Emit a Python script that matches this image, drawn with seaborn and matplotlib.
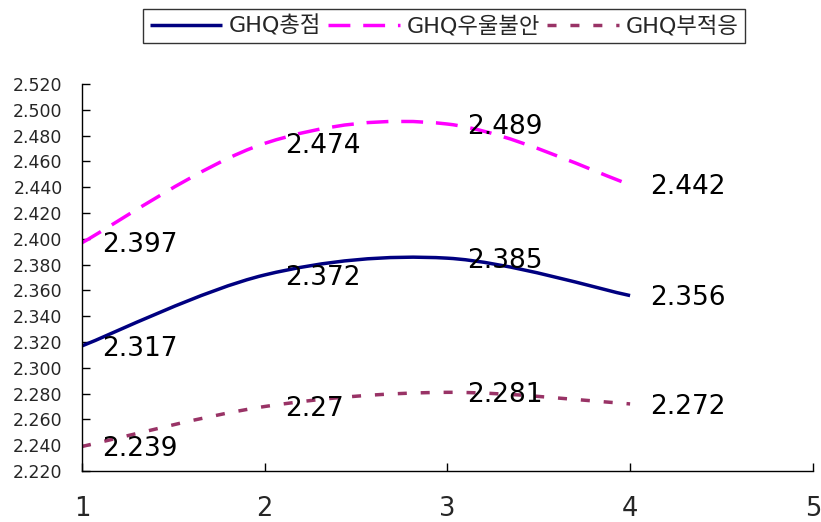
import numpy as np
import matplotlib
matplotlib.use("Agg")
import matplotlib.pyplot as plt
import seaborn as sns
import pandas as pd
from matplotlib.path import Path
from matplotlib.patches import PathPatch

# ---- data ----
waves = [1, 2, 3, 4]
ghq_total = [2.317, 2.372, 2.385, 2.356]
ghq_anxiety = [2.397, 2.474, 2.489, 2.442]
ghq_adjust = [2.239, 2.27, 2.281, 2.272]
series_names = ["GHQ총점", "GHQ우울불안", "GHQ부적응"]
x_ticks = [1, 2, 3, 4, 5]
y_ticks = [2.22, 2.24, 2.26, 2.28, 2.30, 2.32, 2.34, 2.36, 2.38, 2.40,
           2.42, 2.44, 2.46, 2.48, 2.50, 2.52]

colors = ["#000080", "#FF00FF", "#993366"]
styles = ["-", (0, (6.3, 3.7)), (0, (2.6, 4.0))]
LW = 2.5

sns.set_theme(style="white")
plt.rcParams['font.family'] = ['DejaVu Sans', 'Noto Sans CJK KR']

fig = plt.figure(figsize=(8.21, 5.22), dpi=100)
ax = fig.add_axes([0.0999, 0.0977, 0.8901, 0.7413])

df = pd.DataFrame({"wave": waves * 3,
                   "value": ghq_total + ghq_anxiety + ghq_adjust,
                   "series": [series_names[0]] * 4 + [series_names[1]] * 4 + [series_names[2]] * 4})

seaborn_lines = []
for name, col, ls in zip(series_names, colors, styles):
    sub = df[df["series"] == name]
    sns.lineplot(data=sub, x="wave", y="value", color=col, linestyle=ls,
                 linewidth=LW, label=name, ax=ax, solid_capstyle="butt",
                 dash_capstyle="butt")
    seaborn_lines.append(ax.lines[-1])


def smooth_path(xs, ys):
    pts = np.column_stack([xs, ys]).astype(float)
    n = len(pts)
    verts = [pts[0]]
    codes = [Path.MOVETO]
    for i in range(n - 1):
        p0 = pts[max(i - 1, 0)]
        p1 = pts[i]
        p2 = pts[i + 1]
        p3 = pts[min(i + 2, n - 1)]
        c1 = p1 + (p2 - p0) / 6.0
        c2 = p2 - (p3 - p1) / 6.0
        verts += [c1, c2, p2]
        codes += [Path.CURVE4] * 3
    return Path(verts, codes)


for vals, col, ls in zip([ghq_total, ghq_anxiety, ghq_adjust], colors, styles):
    patch = PathPatch(smooth_path(waves, vals), fill=False, edgecolor=col,
                      linewidth=LW, linestyle=ls, capstyle="butt")
    ax.add_patch(patch)
    for xv, yv in zip(waves, vals):
        ax.annotate(f"{yv:g}", (xv, yv), xytext=(14.5, -2), textcoords="offset points",
                    ha="left", va="center", fontsize=19, color="black",
                    family=["DejaVu Sans"])

ax.set_xlim(1, 5)
ax.set_ylim(2.22, 2.52)
ax.set_xticks(x_ticks)
ax.set_xticklabels([str(t) for t in x_ticks], fontsize=18.5)
ax.set_yticks(y_ticks)
ax.set_yticklabels([f"{t:.3f}" for t in y_ticks], fontsize=12.5)
ax.set_xlabel("")
ax.set_ylabel("")
ax.tick_params(axis="x", bottom=True, direction="in", length=6, width=1,
               color="black", pad=18)
ax.tick_params(axis="y", left=True, direction="in", length=6, width=1,
               color="black", pad=14)
for s in ["top", "right"]:
    ax.spines[s].set_visible(False)
for s in ["left", "bottom"]:
    ax.spines[s].set_color("black")
    ax.spines[s].set_linewidth(1)
ax.grid(False)

handles, labels = ax.get_legend_handles_labels()
ax.get_legend().remove()
leg = fig.legend(handles, labels, ncol=3, loc="center",
                 bbox_to_anchor=(0.541, 0.950), frameon=True, fancybox=False,
                 edgecolor="black", handlelength=3.25,
                 handletextpad=0.3, columnspacing=0.3, borderpad=0.3,
                 prop={"family": ["DejaVu Sans", "Noto Sans CJK KR"], "size": 16})
leg.get_frame().set_linewidth(1)
for ln in seaborn_lines:
    ln.set_visible(False)

fig.savefig("out.png", dpi=100)
